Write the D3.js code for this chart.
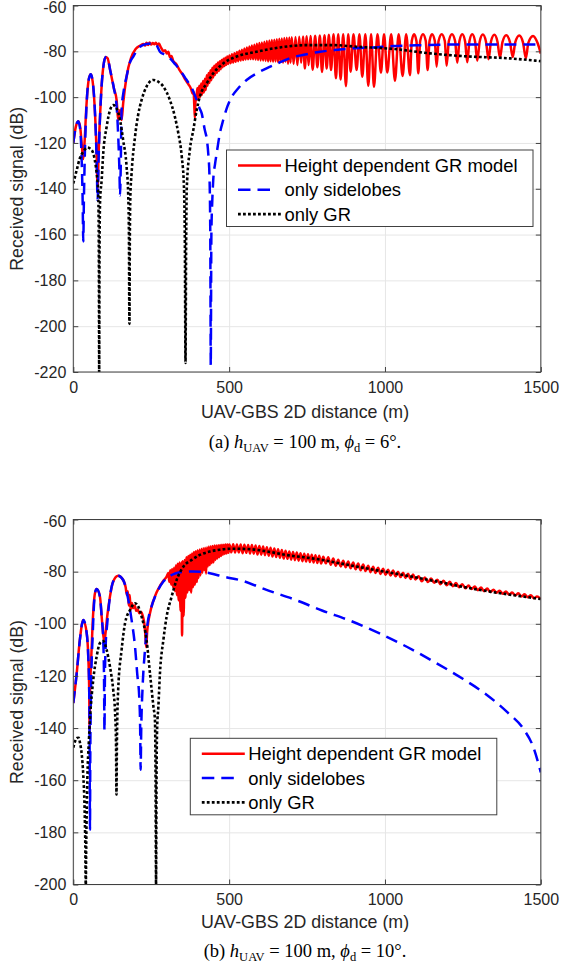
<!DOCTYPE html>
<html><head><meta charset="utf-8">
<script src="https://cdn.jsdelivr.net/npm/d3@7"></script>
<style>body{margin:0;background:#fff}svg{display:block}</style>
</head><body>
<script>
// ---------- data ----------
const xTicks = [0, 500, 1000, 1500];
const yTicksTop = [-60, -80, -100, -120, -140, -160, -180, -200, -220];
const yTicksBottom = [-60, -80, -100, -120, -140, -160, -180, -200];
const seriesNames = ["Height dependent GR model", "only sidelobes", "only GR"];
const xLabel = "UAV-GBS 2D distance (m)";
const yLabel = "Received signal (dB)";

// (a) phi_d = 6 deg
const topRed = [
[0,-120],[8,-113],[16,-110.5],[22,-113],[28,-122],[32,-127],[36,-120],[42,-104],[50,-92],[56,-90],[62,-93],[70,-108],[75,-125],[78,-140],[81,-125],[88,-102],[96,-87],[104,-82.5],[110,-83],[118,-88],[130,-96],[139,-101.3],[144,-110],[150,-105.6],[155,-110],[160,-102.7],[171,-91],[185,-83],[200,-79],[215,-77.5],[225,-76.8],[230,-77.5],[235,-76.3],[240,-77.2],[245,-76.2],[250,-77],[255,-76.4],[260,-76.9],[265,-76.3],[270,-77.3],[275,-76.6],[280,-78],[285,-79.2],[290,-80],[295,-79.5],[300,-81],[305,-80.2],[310,-82.5],[315,-82],[320,-84],[330,-85.5],[340,-88],[350,-90],[360,-92.5],[370,-94.5],[378,-96.5],[383,-98.5],[386,-97.5],[388,-103],[390,-109],[392,-102],[395,-100.5],
[398,-96],[401,-101],[404,-95],[407,-100],[410,-94],[413,-99],[416,-93],[419,-98],[422,-92],[425,-97],[428,-90.5],[431,-95],[434,-89.5],[437,-93.8],[440,-88.3],[443,-92.6],[446,-87.2],[449,-91.4],[452,-86.3],[455,-90.3],[458,-85.6],[461,-89.4],[464,-84.9],[467,-88.6],[470,-84.3],[473,-87.8],[476,-83.8],[479,-87],[482,-83.3],[485,-86.4],[488,-82.8],[491,-85.9],[494,-82.3],[497,-85.5],
[501,-81.8],[505,-85.2],[509,-81.3],[513,-84.9],[517,-80.8],[521,-84.6],[525,-80.3],[529,-84.3],[533,-79.8],[537,-84],[541,-79.3],[545,-83.8],[549,-78.8],[553,-83.6],[557,-78.3],[561,-83.5],[565,-77.9],[569,-83.4],[573,-77.5],[577,-83.5],[581,-77.1],[585,-83.6],[589,-76.7],[593,-83.8],[597,-76.4],[601,-84],[605,-76.1],[609,-84],[613,-75.8],[617,-84.2],[621,-75.5],[625,-84.5],[629,-75.3],[633,-84.3],[637,-75.1],[641,-84.6],[645,-74.9],[649,-84.4],[653,-74.7],[657,-84.8],[661,-74.5],[665,-84.5],[669,-74.4],[673,-85],[677,-74.2],[681,-84.6],[685,-74.1],[689,-85.5],[693,-74],[697,-85],
[701,-73.9],[707,-85.5],[713,-73.8],[719,-86],[725,-73.6],[731,-85],[737,-73.5],[743,-87.5],[749,-73.4],[755,-86],[761,-73.3],[768,-88],[776,-73.2],[783,-87],[791,-73.1],[798,-89],[806,-73],[813,-87.5],[820,-72.8],[827,-88.2],
[835,-72.5],[842.7,-91.8],[850,-72.5],[857.7,-92.3],[866,-72.5],[874.8,-95.2],[882,-72.5],[889.8,-88.9],[899,-72.5],[909,-88.2],[918,-72.5],[927.2,-91.1],[937,-72.5],[946.5,-95],[955.5,-72.5],[964.7,-95.5],[976,-72.5],[987.1,-89.3],[997,-72.5],[1007.4,-89.2],[1020,-72.5],[1032,-92.8],[1044,-72.5],[1056.6,-90.8],[1068,-72.5],[1080.2,-90.4],
[1086,-75.5],[1093.5,-72.5],[1101,-75.5],[1106.9,-89.6],[1113,-75.5],[1122,-72.5],[1131,-75.5],[1136.8,-88.2],[1143,-75.5],[1151,-72.5],[1160,-75.5],[1165.7,-86.7],[1172,-75.5],[1182,-72.5],[1192,-75.5],[1197.8,-86.3],[1205,-75.5],[1215,-72.5],[1225,-75.5],[1232,-85],[1239,-75.5],[1248,-72.6],[1257,-75.6],[1264.1,-84.8],[1271,-75.6],[1280,-72.6],[1289,-75.6],[1296.2,-84.1],[1304,-75.7],[1314,-72.7],[1324,-75.7],[1332.5,-83.5],[1340,-75.8],[1351,-72.8],[1361,-75.8],[1368.9,-82.8],[1377,-76],[1389,-73],[1401,-76],[1410,-82.5],[1418,-76.1],[1431,-73.1],[1443,-76.2],[1452,-83],[1460,-76.3],[1475,-73.3],[1490,-76.5],[1500,-81]
];
const topSidelobes = [
[0,-120],[8,-113],[16,-110.5],[22,-114],[27,-128],[30,-145],[32,-163],[34,-145],[37,-125],[42,-105],[50,-92],[56,-90],[62,-93],[70,-108],[75,-128],[78,-145],[81,-128],[88,-102],[96,-87],[104,-82.5],[110,-83],[118,-88],[130,-96],[139,-104],[145,-120],[148,-132],[150,-143],[152,-132],[155,-105.6],[162,-97],[171,-91],[180,-85.5],[192.5,-82.3],[214,-78],[235,-76.8],[257,-76.5],[268,-77.5],[278,-80.2],[294,-81.5],[310,-83],[326,-85.5],[342,-88.2],[358,-91.4],[374,-94.7],[385,-97.5],[396,-101.3],[404,-104.5],[412,-107.1],[422,-114.4],[428,-118],[433,-124.6],[437,-134.8],[439.5,-160],[441,-217],[443,-160],[446,-145],[449,-136.2],[455,-129],[460,-124.6],[470,-116],[481,-110],[492,-105],[503,-101.3],[530,-96],[556,-92.5],[590,-89.5],[620,-87.4],[660,-85],[695,-83],[740,-81.5],[791,-80.2],[850,-79.3],[898,-78.7],[962,-78.3],[1027,-77.7],[1101,-77.4],[1176,-77.1],[1241,-77],[1315,-77],[1400,-77],[1500,-77]
];
const topGR = [
[0,-137.7],[11,-131.8],[21,-126.7],[32,-123.8],[45,-122],[59,-123.1],[69,-127.5],[75,-133.3],[80,-142],[82,-170],[83,-221],[84,-170],[86,-145],[91,-136.2],[96,-124.6],[107,-112.9],[118,-105.6],[128,-103.5],[139,-104.9],[150,-110],[160,-118.8],[171,-130.4],[176,-142],[178.5,-160],[180,-199],[181.5,-160],[183,-143.5],[187,-133.3],[198,-117.3],[208,-107.8],[219,-101.3],[235,-95.4],[257,-92.5],[273,-93.3],[289,-95.4],[310,-101.3],[326,-108.6],[337,-115.8],[348,-126],[355,-139],[358,-165],[360,-216],[362,-165],[364,-140],[374,-123],[385,-114.4],[396,-105.6],[406,-99.8],[428,-94],[449,-89.6],[481,-85.3],[524,-82.3],[588,-80.2],[663,-78.3],[749,-77.3],[834,-77.3],[909,-78],[1037,-79.1],[1144,-80.9],[1251,-82.1],[1401,-83.1],[1500,-84.3]
];

// (b) phi_d = 10 deg
const botRed = [
[0,-130.4],[11,-118.9],[21,-106.2],[32,-98.5],[43,-103.6],[48,-112.5],[51,-125.3],[52.5,-141],[54,-125],[57,-115],[62,-100],[69.5,-88.3],[75,-86.7],[85.5,-89.6],[91,-97.2],[96,-104],[100,-107],[103,-104],[109,-97],[117.6,-89.6],[128,-83.8],[144,-81.6],[160,-83.2],[168,-86],[172,-89],[175,-87.5],[178,-93],[181,-89],[184,-94.5],[188,-92],[192,-94],[197,-93],[202,-95],[207,-94.5],[212,-96],[218,-95.5],[224,-97.5],[228,-100],[231,-104],[234,-109],[237,-103],[241,-99],[246,-96],[251,-93.4],[259,-90.5],[267,-88],[278,-85.5],[289,-83.5],[299,-82],
[305,-80.5],[308,-84],[311,-79.5],[314,-85],[317,-79],[320,-86],[323,-78.5],[326,-87.5],[329,-77.5],[332,-89],[335,-77],[338,-91],[341,-76.5],[344,-95],[347,-76.5],[349,-104.5],[351,-76],[354,-97],[357,-75.5],[360,-90],[363,-74.5],[366,-88],[369,-74],[372,-87],[375,-73.5],[378,-88],[381,-73],[384,-86],[387,-72.5],[390,-85],[393,-72.2],[396,-84],[399,-71.8],[402,-82.5],[405,-71.5],[408,-81.5],[411,-71.2],[414,-80.5],[417,-71],[420,-79.5],[423,-70.8],[426,-80.8],[429,-70.6],[432,-78],[435,-70.4],[438,-77.5],[441,-70.3],[444,-76.8],[447,-70.2],[450,-76.5],[453,-70],[456,-75.5],[459,-70],[462,-75],[465,-69.9],[468,-74.5],[471,-69.8],[474,-74],[477,-69.7],[480,-73.5],[483,-69.7],[486,-73.2],[489,-69.6],[492,-73],[495,-69.6],[498,-72.8],
[501,-69.6],[507,-72.6],[513,-69.5],[519,-72.7],[525,-69.6],[531,-72.6],[537,-69.6],[543,-72.9],[549,-69.7],[555,-72.8],[561,-69.8],[567,-73],[573,-69.8],[579,-73.1],[585,-70],[591,-73.4],[597,-70.2],[603,-73.5],[609,-70.4],[615,-73.7],[621,-70.6],[627,-73.9],[633,-70.8],[639,-74.2],[645,-71.1],[651,-74.4],[657,-71.4],[663,-74.7],[669,-71.7],[675,-75],[681,-72],[687,-75.1],[693,-72.3],[699,-75.4],[705,-72.5],[711,-75.6],[717,-72.7],[723,-75.8],[729,-72.9],[735,-76],[741,-73.1],[747,-76.1],[753,-73.3],[759,-76.3],[765,-73.5],[771,-76.5],[777,-73.7],[783,-76.7],[789,-73.9],[795,-76.9],
[802,-74.3],[810,-76.8],[818,-74.5],[826,-77.4],[834,-75],[842,-77.7],[850,-75.4],[858,-78],[866,-75.8],[874,-78.3],[882,-76.1],[890,-78.7],[898,-76.5],[906,-79.1],[914,-76.9],[922,-79.5],[930,-77.3],[938,-79.8],[946,-77.7],[954,-80.2],[962,-78.1],[970,-80.5],[978,-78.5],[986,-80.9],[994,-78.9],[1002,-81.2],[1010,-79.3],[1018,-81.5],[1026,-79.6],[1034,-81.8],[1042,-80],[1050,-82.1],[1058,-80.4],[1066,-82.4],[1074,-80.8],[1082,-82.8],[1090,-81.1],[1098,-83],
[1108,-81.8],[1118,-83.7],[1128,-82.2],[1138,-84],[1148,-82.6],[1158,-84.3],[1168,-83.1],[1178,-84.8],[1188,-83.5],[1198,-85.2],[1208,-83.9],[1218,-85.6],[1228,-84.4],[1238,-86],[1248,-84.8],[1258,-86.4],[1268,-85.3],[1278,-86.7],[1288,-85.7],[1298,-87.1],[1308,-86.1],[1318,-87.5],[1328,-86.5],[1338,-87.8],[1348,-86.9],[1358,-88.1],[1368,-87.3],[1378,-88.5],[1388,-87.6],[1398,-88.8],[1408,-88],[1418,-89.1],[1428,-88.3],[1438,-89.5],[1448,-88.7],[1458,-89.8],[1468,-89.1],[1478,-90.2],[1488,-89.5],[1500,-90.6]
];
const botSidelobes = [
[0,-130.4],[11,-118.9],[21,-106.2],[32,-98.5],[43,-103.6],[48,-112.5],[51,-125.3],[52.5,-150],[53.5,-179],[54.5,-150],[57,-125],[62,-105],[69.5,-88.3],[75,-86.7],[85.5,-89.6],[91,-97.2],[96,-106.2],[98.5,-120],[100,-141],[101.5,-120],[104,-108],[109,-99.8],[117.6,-89.6],[128,-83.8],[144,-81.6],[160,-83.2],[176.5,-90.8],[187,-98.5],[198,-108.7],[205,-119],[212,-129.2],[214.5,-140],[216,-156],[218,-140],[222,-125.3],[230,-110],[237,-101],[251,-93.4],[267,-88.3],[289,-83.8],[315.5,-81.3],[342,-80.2],[385,-79.9],[438,-80.6],[481,-81.9],[540,-83.4],[620,-87],[712,-90.8],[798,-94.9],[890,-98.9],[981,-103.6],[1073,-109],[1165,-115.1],[1251,-121.2],[1326,-127.2],[1395,-134.2],[1446,-140.6],[1475,-147],[1500,-157]
];
const botGR = [
[0,-147.5],[6,-145],[12,-143.8],[17,-143.7],[22,-146],[27,-150],[32,-158],[36,-170],[38.5,-185],[40,-201],[41.5,-185],[45,-160],[50,-145],[53.5,-136.8],[64,-121.5],[75,-112.5],[85.5,-107.4],[96,-106.6],[107,-110],[117.6,-116.4],[128,-125.3],[134,-134],[137,-145],[138.5,-165.5],[140,-145],[144,-125.3],[155,-110],[166,-99.8],[182,-94.7],[198,-92.1],[208.5,-93.4],[219,-97.2],[235,-106.2],[246,-119],[257,-131.7],[262,-137],[264,-160],[265.5,-200],[267,-160],[269,-140],[273,-131.7],[278,-119],[289,-106.2],[299.5,-97.2],[315.5,-89.6],[331.5,-83.2],[353,-78.1],[380,-75.5],[406,-73.6],[438,-72.3],[470,-71.6],[511,-71.2],[568,-71.4],[620,-72.2],[682,-73.6],[740,-74.5],[798,-75.5],[855,-76.8],[912,-78.1],[970,-79.4],[1027,-80.6],[1085,-81.9],[1142,-83.2],[1200,-84.6],[1257,-86],[1314,-87.2],[1371,-88.3],[1435,-89.4],[1500,-90.5]
];

// ---------- drawing ----------
const svg = d3.select("body").append("svg").attr("width", 561).attr("height", 974);
const SANS = "'Liberation Sans', Arial, Helvetica, sans-serif";
const SERIF = "'Liberation Serif', 'Times New Roman', serif";
const styles = [
  {color: "#ff0000", width: 2.5, dash: null},
  {color: "#0000ff", width: 2.5, dash: "12,7"},
  {color: "#000000", width: 2.6, dash: "2.8,2.2"}
];

function panel(o) {
  const L = 73.3, R = 540.8;
  const x = d3.scaleLinear().domain([0, 1500]).range([L, R]);
  const y = d3.scaleLinear().domain([o.yTicks[o.yTicks.length - 1], -60]).range([o.bottom, o.top]);
  const g = svg.append("g");
  const pw = R - L, ph = o.bottom - o.top;

  // grid
  g.append("g").attr("transform", `translate(0,${o.bottom})`)
    .call(d3.axisBottom(x).tickValues(xTicks).tickSize(-ph).tickFormat(""))
    .call(s => { s.select(".domain").remove(); s.selectAll("line").attr("stroke", "#e6e6e6").attr("stroke-width", 1); });
  g.append("g").attr("transform", `translate(${L},0)`)
    .call(d3.axisLeft(y).tickValues(o.yTicks).tickSize(-pw).tickFormat(""))
    .call(s => { s.select(".domain").remove(); s.selectAll("line").attr("stroke", "#e6e6e6").attr("stroke-width", 1); });

  // lines
  const clipId = "clip" + o.id;
  svg.append("clipPath").attr("id", clipId).append("rect")
    .attr("x", L).attr("y", o.top).attr("width", pw).attr("height", ph);
  const line = d3.line().x(d => x(d[0])).y(d => y(d[1])).curve(d3.curveMonotoneX);
  const lg = g.append("g").attr("clip-path", `url(#${clipId})`);
  o.series.forEach((data, i) => {
    const st = styles[i];
    lg.append("path").datum(data).attr("d", line)
      .attr("fill", "none").attr("stroke", st.color).attr("stroke-width", st.width)
      .attr("stroke-dasharray", st.dash).attr("stroke-linejoin", "round");
  });

  // axes with inward ticks
  const axStyle = s => {
    s.select(".domain").remove();
    s.selectAll("line").attr("stroke", "#404040").attr("stroke-width", 1);
    s.selectAll("text").attr("fill", "#262626").style("font-family", SANS).style("font-size", "16px");
  };
  g.append("g").attr("transform", `translate(0,${o.bottom})`)
    .call(d3.axisBottom(x).tickValues(xTicks).tickSizeInner(-5).tickSizeOuter(0).tickPadding(o.xPad).tickFormat(d3.format("d")))
    .call(axStyle);
  g.append("g").attr("transform", `translate(0,${o.top})`)
    .call(d3.axisTop(x).tickValues(xTicks).tickSizeInner(-5).tickSizeOuter(0).tickFormat(""))
    .call(axStyle);
  g.append("g").attr("transform", `translate(${L},0)`)
    .call(d3.axisLeft(y).tickValues(o.yTicks).tickSizeInner(-5).tickSizeOuter(0).tickPadding(7).tickFormat(d => String(d)))
    .call(axStyle)
    .call(s => s.selectAll(".tick text").filter(d => d === -60).attr("dy", "0.45em"));
  g.append("g").attr("transform", `translate(${R},0)`)
    .call(d3.axisRight(y).tickValues(o.yTicks).tickSizeInner(-5).tickSizeOuter(0).tickFormat(""))
    .call(axStyle);

  // box
  g.append("rect").attr("x", L).attr("y", o.top).attr("width", pw).attr("height", ph)
    .attr("fill", "none").attr("stroke", "#404040").attr("stroke-width", 1);

  // labels
  g.append("text").attr("x", 305).attr("y", o.xLabelY).attr("dy", "0.35em")
    .attr("text-anchor", "middle").style("font-family", SANS).style("font-size", "17.8px").attr("fill", "#262626")
    .text(xLabel);
  g.append("text").attr("transform", `translate(17,${(o.top + o.bottom) / 2}) rotate(-90)`).attr("dy", "0.35em")
    .attr("text-anchor", "middle").style("font-family", SANS).style("font-size", "17.8px").attr("fill", "#262626")
    .text(yLabel);

  // legend
  const lgd = g.append("g");
  lgd.append("rect").attr("x", o.leg.x).attr("y", o.leg.y).attr("width", 306.5).attr("height", 76.5)
    .attr("fill", "#fff").attr("stroke", "#404040").attr("stroke-width", 1);
  seriesNames.forEach((name, i) => {
    const st = styles[i];
    const yy = o.leg.y + 15.5 + i * 24.3;
    lgd.append("line").attr("x1", o.leg.x + 11.5).attr("x2", o.leg.x + 54.5).attr("y1", yy).attr("y2", yy)
      .attr("stroke", st.color).attr("stroke-width", st.width)
      .attr("stroke-dasharray", i === 1 ? "12.5,7,12.5,30" : st.dash);
    lgd.append("text").attr("x", o.leg.x + 58).attr("y", yy).attr("dy", "0.35em")
      .style("font-family", SANS).style("font-size", "18.4px").attr("fill", "#000").text(name);
  });

  // caption
  const cap = g.append("text").attr("x", 305).attr("y", o.capY).attr("dy", "0.35em")
    .attr("text-anchor", "middle").style("font-family", SERIF).style("font-size", "18.5px").attr("fill", "#000");
  cap.append("tspan").text(o.capTag + " ");
  cap.append("tspan").style("font-style", "italic").text("h");
  cap.append("tspan").attr("dy", 4).style("font-size", "12.5px").text("UAV");
  cap.append("tspan").attr("dy", -4).text(" = 100 m, ");
  cap.append("tspan").style("font-style", "italic").text("\u03D5");
  cap.append("tspan").attr("dy", 4).style("font-size", "12.5px").text("d");
  cap.append("tspan").attr("dy", -4).text(" = " + o.capAngle + "\u00B0.");
}

panel({id: "a", top: 5.5, bottom: 372, yTicks: yTicksTop, series: [topRed, topSidelobes, topGR],
  xPad: 10, xLabelY: 412, capY: 442, capTag: "(a)", capAngle: "6",
  leg: {x: 226.5, y: 150}});
panel({id: "b", top: 519.5, bottom: 884.5, yTicks: yTicksBottom, series: [botRed, botSidelobes, botGR],
  xPad: 9, xLabelY: 922, capY: 951, capTag: "(b)", capAngle: "10",
  leg: {x: 190.3, y: 738.3}});
</script>
</body></html>
